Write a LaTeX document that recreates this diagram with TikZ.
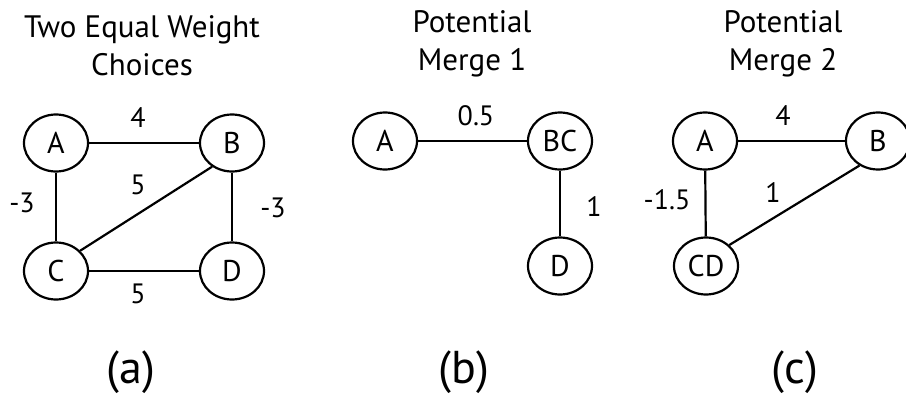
\documentclass[tikz,border=0pt]{standalone}
\usepackage{fontspec}
\setmainfont{PT Sans}
\usetikzlibrary{shapes.geometric}
\tikzset{
  vtx/.style={draw, ellipse, line width=2.2pt, minimum width=64pt, minimum height=57pt, inner sep=0pt, font=\fontsize{30}{34}\selectfont},
  edge/.style={line width=2.2pt},
  wlab/.style={inner sep=0pt, font=\fontsize{28}{32}\selectfont},
  ttl/.style={align=center, inner sep=0pt, font=\fontsize{31}{38}\selectfont},
  plab/.style={inner sep=0pt, font=\fontsize{46}{50}\selectfont}
}
\begin{document}
\begin{tikzpicture}[x=1pt, y=-1pt]
\useasboundingbox (0,0) rectangle (906,396);
% panel (a)
\node[ttl] (ta) at (142,46) {Two Equal Weight\\Choices};
\node[vtx] (aA) at (56,143) {A};
\node[vtx] (aB) at (232,143) {B};
\node[vtx] (aC) at (56,271) {C};
\node[vtx] (aD) at (232,271) {D};
\draw[edge] (aA) -- (aB);
\draw[edge] (aA) -- (aC);
\draw[edge] (aB) -- (aD);
\draw[edge] (aC) -- (aD);
\draw[edge] (aC.40) -- (aB.230);
\node[wlab] (wab) at (138,118) {4};
\node[wlab] (wcb) at (138,185) {5};
\node[wlab] (wac) at (22,203) {-3};
\node[wlab] (wbd) at (273,208) {-3};
\node[wlab] (wcd) at (138,294) {5};
\node[plab] (la) at (131,372) {(a)};
% panel (b)
\node[ttl] (tb) at (472,44) {Potential\\Merge 1};
\node[vtx] (bA) at (385,141) {A};
\node[vtx] (bBC) at (560,141) {BC};
\node[vtx] (bD) at (560,266) {D};
\draw[edge] (bA) -- (bBC);
\draw[edge] (bBC) -- (bD);
\node[wlab] (wabc) at (476,116) {0.5};
\node[wlab] (wbcd) at (594,207) {1};
\node[plab] (lb) at (464,372) {(b)};
% panel (c)
\node[ttl] (tc) at (783,44) {Potential\\Merge 2};
\node[vtx] (cA) at (705,141) {A};
\node[vtx] (cB) at (878,141) {B};
\node[vtx] (cCD) at (706,266) {CD};
\draw[edge] (cA) -- (cB);
\draw[edge] (cA) -- (cCD);
\draw[edge] (cCD.42) -- (cB.233);
\node[wlab] (wcab) at (783,116) {4};
\node[wlab] (wccb) at (773,193) {1};
\node[wlab] (wcacd) at (667,200) {-1.5};
\node[plab] (lc) at (795,372) {(c)};
\end{tikzpicture}
\end{document}
